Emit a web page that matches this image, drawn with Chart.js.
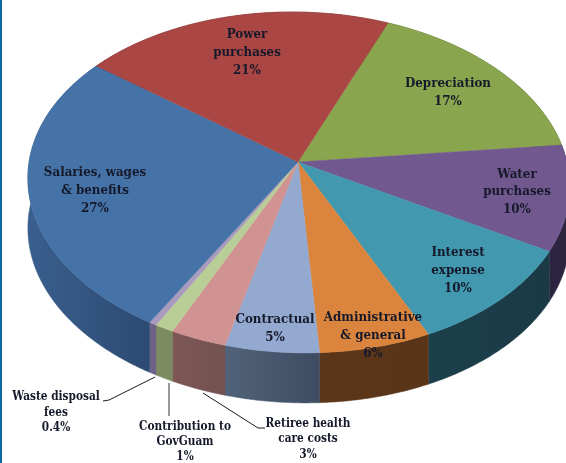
<!DOCTYPE html>
<html>
<head>
<meta charset="utf-8">
<script src="https://cdn.jsdelivr.net/npm/chart.js@4"></script>
<style>
  html, body { margin: 0; padding: 0; background: #fff; }
  #wrap { position: relative; width: 566px; height: 463px; overflow: hidden; }
  #strip { position: absolute; left: 0; top: 0; width: 2px; height: 463px; background: #0b6aa2; }
</style>
</head>
<body>
<div id="wrap">
  <canvas id="chart" width="566" height="463"></canvas>
  <div id="strip"></div>
</div>
<script>
// --- data, clockwise from the Depreciation slice ---
const categories = [
    ['Depreciation'],
    ['Water', 'purchases'],
    ['Interest', 'expense'],
    ['Administrative', '& general'],
    ['Contractual'],
    ['Retiree health', 'care costs'],
    ['Contribution to', 'GovGuam'],
    ['Waste disposal', 'fees'],
    ['Salaries, wages', '& benefits'],
    ['Power', 'purchases']
];
const shares = [17, 10, 10, 6, 5, 3, 1, 0.4, 27, 21];

// --- styles ---
const topColors = ['#89a54e', '#71588f', '#4198af', '#db843d', '#93a9cf', '#d19392', '#b9cd96', '#a99bbd', '#4572a7', '#aa4643'];
const wallLeft = ['#4a5a2a', '#2b2340', '#1c3f4c', '#5c3619', '#51637a', '#7d5754', '#7d8c62', '#70648a', '#3a5f8e', '#5c2a28'];
const wallRight = ['#4a5a2a', '#2e2540', '#1a3a45', '#5a3418', '#3e4b60', '#725250', '#7a8a60', '#6c6182', '#2c4a72', '#5c2a28'];

// label anchors: centre x and the y of each text line, same order as categories
const labelX = [448, 517, 458, 373, 275, 308, 185, 56, 95, 247];
const labelY = [
    [83, 101], [174, 191, 209], [252, 270, 288], [317, 335, 353], [319, 337],
    [424, 439, 455], [427, 442, 457], [397, 413, 428], [172, 190, 208], [34, 52, 70]
];
const smallLabels = [5, 6, 7];

// tilt of the pie plane
const SCALE_X = 1.66, SCALE_Y = 1.037, PERSP = 0.12, SKEW = 0.04, DEPTH = 50;
const TEXT_SQUEEZE = 0.88;

function project(arc, angle) {
    const X = Math.cos(angle), Y = Math.sin(angle);
    const w = 1 - PERSP * Y;
    const dy = arc.outerRadius * SCALE_Y * Y / w;
    return {
        x: arc.x + arc.outerRadius * SCALE_X * X / w + SKEW * dy,
        y: arc.y + dy
    };
}

function edgePoints(arc) {
    const pts = [];
    const steps = Math.max(2, Math.ceil((arc.endAngle - arc.startAngle) / 0.01));
    for (let i = 0; i <= steps; i++) {
        pts.push(project(arc, arc.startAngle + (arc.endAngle - arc.startAngle) * i / steps));
    }
    return pts;
}

const tiltedPie = {
    id: 'tiltedPie',
    beforeDatasetDraw(chart) {
        const ctx = chart.ctx;
        const arcs = chart.getDatasetMeta(0).data;

        // side walls first, the top face covers the back part
        arcs.forEach((arc, i) => {
            const pts = edgePoints(arc);
            const xs = pts.map(p => p.x);
            const grad = ctx.createLinearGradient(Math.min(...xs), 0, Math.max(...xs) + 1, 0);
            grad.addColorStop(0, wallLeft[i]);
            grad.addColorStop(1, wallRight[i]);
            ctx.beginPath();
            pts.forEach((p, n) => n ? ctx.lineTo(p.x, p.y) : ctx.moveTo(p.x, p.y));
            pts.slice().reverse().forEach(p => ctx.lineTo(p.x, p.y + DEPTH));
            ctx.closePath();
            ctx.fillStyle = grad;
            ctx.strokeStyle = grad;
            ctx.lineWidth = 0.5;
            ctx.fill();
            ctx.stroke();
        });

        arcs.forEach(arc => {
            ctx.beginPath();
            ctx.moveTo(arc.x, arc.y);
            edgePoints(arc).forEach(p => ctx.lineTo(p.x, p.y));
            ctx.closePath();
            ctx.fillStyle = arc.options.backgroundColor;
            ctx.strokeStyle = arc.options.backgroundColor;
            ctx.lineWidth = 0.5;
            ctx.fill();
            ctx.stroke();
        });
        return false; // skip the flat default arcs
    },
    afterDatasetsDraw(chart) {
        const ctx = chart.ctx;

        // leader lines
        ctx.lineWidth = 1;
        ctx.strokeStyle = '#1a1a1a';
        [[[103, 401], [109, 400], [155, 377]], [[203, 393], [258, 428], [265, 428]]].forEach(line => {
            ctx.beginPath();
            line.forEach((p, n) => n ? ctx.lineTo(p[0], p[1]) : ctx.moveTo(p[0], p[1]));
            ctx.stroke();
        });
        ctx.strokeStyle = '#777';
        ctx.lineWidth = 1.5;
        ctx.beginPath();
        ctx.moveTo(169, 383);
        ctx.lineTo(169, 416);
        ctx.stroke();

        // labels
        ctx.fillStyle = '#15192a';
        ctx.textAlign = 'center';
        ctx.textBaseline = 'middle';
        categories.forEach((lines, i) => {
            const small = smallLabels.includes(i);
            ctx.font = 'bold ' + (small ? 12 : 13.5) + 'px "DejaVu Serif"';
            lines.concat(shares[i] + '%').forEach((text, n) => {
                ctx.save();
                ctx.translate(labelX[i], labelY[i][n]);
                ctx.scale(TEXT_SQUEEZE, 1);
                ctx.fillText(text, 0, 0);
                ctx.restore();
            });
        });
    }
};

new Chart(document.getElementById('chart'), {
    type: 'pie',
    data: {
        labels: categories.map(c => c.join(' ')),
        datasets: [{ data: shares, backgroundColor: topColors, borderWidth: 0 }]
    },
    options: {
        responsive: false,
        animation: false,
        rotation: 23.2,
        layout: { padding: { left: 30, top: 0, right: 0, bottom: 139 } },
        plugins: { legend: { display: false }, tooltip: { enabled: false } }
    },
    plugins: [tiltedPie]
});
</script>
</body>
</html>
